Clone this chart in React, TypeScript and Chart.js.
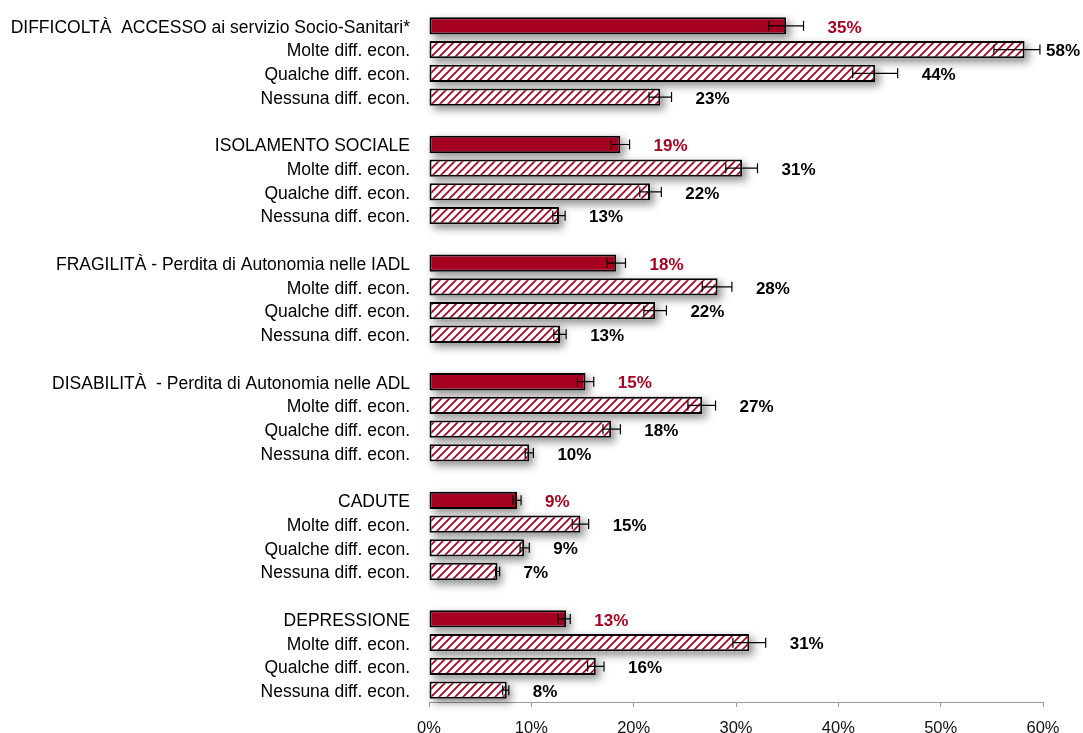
import React, { useEffect, useRef } from 'react';
import { Chart, registerables } from 'chart.js';

Chart.register(...registerables);

const groupTitles = [
  'DIFFICOLTÀ  ACCESSO ai servizio Socio-Sanitari*',
  'ISOLAMENTO SOCIALE',
  'FRAGILITÀ - Perdita di Autonomia nelle IADL',
  'DISABILITÀ  - Perdita di Autonomia nelle ADL',
  'CADUTE',
  'DEPRESSIONE',
];
const subLabels = ['Molte diff. econ.', 'Qualche diff. econ.', 'Nessuna diff. econ.'];

const totalValues = [34.9, 18.7, 18.3, 15.3, 8.6, 13.4];
const molteValues = [58.2, 30.6, 28.2, 26.7, 14.8, 31.3];
const qualcheValues = [43.6, 21.6, 22.1, 17.8, 9.3, 16.3];
const nessunaValues = [22.6, 12.7, 12.8, 9.8, 6.7, 7.6];

const totalLow = [33.2, 17.8, 17.4, 14.5, 8.2, 12.6];
const totalHigh = [36.6, 19.6, 19.2, 16.1, 9.0, 13.8];
const molteLow = [55.2, 29.0, 26.7, 25.3, 14.0, 29.7];
const molteHigh = [59.7, 32.1, 29.6, 28.0, 15.6, 32.9];
const qualcheLow = [41.4, 20.6, 21.0, 17.0, 8.9, 15.5];
const qualcheHigh = [45.8, 22.7, 23.2, 18.7, 9.8, 17.1];
const nessunaLow = [21.5, 12.1, 12.2, 9.4, 6.5, 7.2];
const nessunaHigh = [23.7, 13.3, 13.4, 10.2, 6.9, 7.8];

const xTickMin = 0;
const xTickMax = 60;
const xTickStep = 10;

const RED = '#a50021';

type Kind = 'total' | 'sub' | 'blank';

function buildRows() {
  const labels: string[] = [];
  const values: (number | null)[] = [];
  const lows: (number | null)[] = [];
  const highs: (number | null)[] = [];
  const kinds: Kind[] = [];
  groupTitles.forEach((title, g) => {
    labels.push(title);
    values.push(totalValues[g]);
    lows.push(totalLow[g]);
    highs.push(totalHigh[g]);
    kinds.push('total');
    const subVals = [molteValues[g], qualcheValues[g], nessunaValues[g]];
    const subLow = [molteLow[g], qualcheLow[g], nessunaLow[g]];
    const subHigh = [molteHigh[g], qualcheHigh[g], nessunaHigh[g]];
    subLabels.forEach((s, k) => {
      labels.push(s);
      values.push(subVals[k]);
      lows.push(subLow[k]);
      highs.push(subHigh[k]);
      kinds.push('sub');
    });
    if (g < groupTitles.length - 1) {
      labels.push('');
      values.push(null);
      lows.push(null);
      highs.push(null);
      kinds.push('blank');
    }
  });
  return { labels, values, lows, highs, kinds };
}

function makePattern(): CanvasPattern | string {
  const c = document.createElement('canvas');
  c.width = 8;
  c.height = 8;
  const g = c.getContext('2d');
  if (!g) return RED;
  g.fillStyle = '#ffffff';
  g.fillRect(0, 0, 8, 8);
  g.strokeStyle = RED;
  g.lineWidth = 1.7;
  g.beginPath();
  g.moveTo(-1, 9);
  g.lineTo(9, -1);
  g.moveTo(-1, 1);
  g.lineTo(1, -1);
  g.moveTo(7, 9);
  g.lineTo(9, 7);
  g.stroke();
  const p = g.createPattern(c, 'repeat');
  return p || RED;
}

export default function App() {
  const ref = useRef<HTMLCanvasElement | null>(null);

  useEffect(() => {
    if (!ref.current) return;
    const { labels, values, lows, highs, kinds } = buildRows();
    const pattern = makePattern();

    const overlay = {
      id: 'overlay',
      beforeDatasetsDraw(chart: any) {
        const ctx = chart.ctx;
        const meta = chart.getDatasetMeta(0);
        meta.data.forEach((bar: any, i: number) => {
          if (kinds[i] === 'blank') return;
          const { x, y, base, height } = bar.getProps(['x', 'y', 'base', 'height'], true);
          ctx.save();
          ctx.shadowColor = 'rgba(0,0,0,0.45)';
          ctx.shadowBlur = 8;
          ctx.shadowOffsetX = 4;
          ctx.shadowOffsetY = 4;
          ctx.fillStyle = '#ffffff';
          ctx.fillRect(base, y - height / 2, x - base, height);
          ctx.restore();
        });
      },
      afterDatasetsDraw(chart: any) {
        const ctx = chart.ctx;
        const meta = chart.getDatasetMeta(0);
        const xs = chart.scales.x;
        meta.data.forEach((bar: any, i: number) => {
          if (kinds[i] === 'blank') return;
          const lo = lows[i] as number;
          const hi = highs[i] as number;
          const v = values[i] as number;
          const y = bar.y;
          const xl = xs.getPixelForValue(lo);
          const xh = xs.getPixelForValue(hi);
          ctx.save();
          ctx.strokeStyle = '#000';
          ctx.lineWidth = 1.2;
          ctx.beginPath();
          ctx.moveTo(xl, y);
          ctx.lineTo(xh, y);
          ctx.moveTo(xl, y - 5);
          ctx.lineTo(xl, y + 5);
          ctx.moveTo(xh, y - 5);
          ctx.lineTo(xh, y + 5);
          ctx.stroke();

          const text = Math.round(v) + '%';
          ctx.font = 'bold 17px "Liberation Sans", Arial, sans-serif';
          const w = ctx.measureText(text).width;
          const lx = Math.min(xh + 24, chart.width - w - 3);
          ctx.fillStyle = kinds[i] === 'total' ? RED : '#000';
          ctx.textAlign = 'left';
          ctx.textBaseline = 'middle';
          ctx.fillText(text, lx, y + 2);
          ctx.restore();
        });
      },
    };

    const chart = new Chart(ref.current, {
      type: 'bar',
      data: {
        labels,
        datasets: [
          {
            data: values as any,
            backgroundColor: (c: any) => (kinds[c.dataIndex] === 'total' ? RED : pattern),
            borderColor: '#000',
            borderWidth: 2,
            borderSkipped: false,
            categoryPercentage: 1,
            barPercentage: 0.73,
          },
        ],
      },
      options: {
        indexAxis: 'y',
        animation: false,
        responsive: false,
        maintainAspectRatio: false,
        layout: { padding: { top: 14, right: 40, left: 0, bottom: 0 } },
        plugins: {
          legend: { display: false },
          tooltip: { enabled: false },
        },
        scales: {
          x: {
            type: 'linear',
            position: 'bottom',
            min: xTickMin,
            max: xTickMax,
            ticks: {
              stepSize: xTickStep,
              callback: (v: any) => v + '%',
              color: '#111',
              padding: 12,
              font: { family: '"Liberation Sans", Arial, sans-serif', size: 16.5 },
            },
            grid: {
              display: true,
              drawOnChartArea: false,
              drawTicks: true,
              tickLength: 5,
              color: '#9a9a9a',
            },
            border: { display: true, color: '#9a9a9a', width: 1 },
            afterFit: (s: any) => {
              s.height = 31;
              s.paddingLeft = 0;
              s.paddingRight = 0;
              s.paddingTop = 0;
              s.paddingBottom = 0;
            },
          },
          y: {
            type: 'category',
            grid: { display: false },
            border: { display: false },
            ticks: {
              autoSkip: false,
              color: '#000',
              padding: 11,
              labelOffset: 2,
              font: { family: '"Liberation Sans", Arial, sans-serif', size: 17.5 },
            },
            afterFit: (s: any) => {
              s.width = 429;
              s.paddingTop = 0;
              s.paddingBottom = 0;
              s.paddingLeft = 0;
              s.paddingRight = 0;
            },
          },
        },
      },
      plugins: [overlay],
    });

    return () => chart.destroy();
  }, []);

  return (
    <div style={{ position: 'fixed', left: 0, top: 0, width: 1083, height: 733, background: '#fff' }}>
      <canvas ref={ref} width={1083} height={733} style={{ display: 'block' }} />
    </div>
  );
}
